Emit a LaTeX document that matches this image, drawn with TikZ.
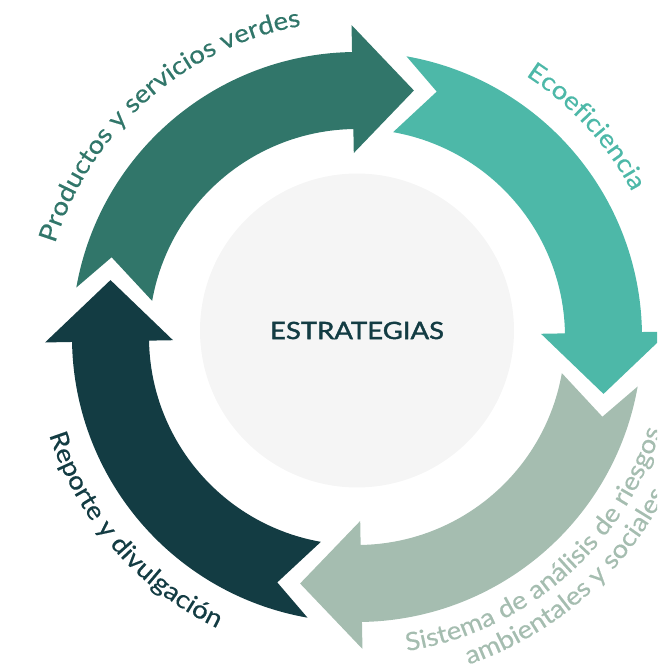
\documentclass[tikz,border=0pt]{standalone}
\usepackage{fontspec}
\setmainfont{Lato}
\newfontfamily\hubfont[FakeBold=1.6,FakeStretch=1.15]{Lato}
\newfontfamily\lblfam[FakeBold=0.4,FakeStretch=1.1]{Lato}
\usetikzlibrary{decorations.text}
\definecolor{prodcol}{HTML}{31766A}
\definecolor{ecocol}{HTML}{4DB8A8}
\definecolor{riskcol}{HTML}{A5BDB0}
\definecolor{repcol}{HTML}{133C43}
\definecolor{hubcol}{HTML}{F5F5F5}
\newcommand{\lblfont}{\lblfam\fontsize{14.3}{17}\selectfont}

\begin{document}
\begin{tikzpicture}[x=0.02cm,y=0.02cm,
  lbl/.style 2 args={decorate,decoration={text along path,text align=center,
    text color=#1,text={|\lblfont|#2}}}]
  \useasboundingbox (-357,-329) rectangle (300,337);
  \clip (-357,-329) rectangle (300,337);
  % centre
  \node (hub) [circle,fill=hubcol,minimum size=6.28cm,inner sep=0pt,
    text=repcol,font=\hubfont\fontsize{13.6}{16}\selectfont] at (0,6.5) {ESTRATEGIAS};
  % the four ring arrows, clockwise
  \foreach \t/\c in {170/prodcol,80/ecocol,-10/riskcol,-100/repcol}
    \fill[\c] (\t:285) arc[start angle=\t,end angle=\t-79,radius=285]
      -- ({\t-79}:312) -- ({\t-93}:253) -- ({\t-79}:184) -- ({\t-79}:208)
      arc[start angle=\t-79,end angle=\t,radius=208] -- ({\t-8}:258) -- cycle;
  % labels round the ring
  \path[lbl={prodcol}{Productos y servicios verdes}]
    (176:316) arc[start angle=176,end angle=87,radius=316];
  \path[lbl={ecocol}{Ecoeficiencia}]
    (70:311) arc[start angle=70,end angle=15,radius=311];
  \path[lbl={repcol}{Reporte y divulgación}]
    (180:323) arc[start angle=180,end angle=262,radius=323];
  \path[lbl={riskcol}{Sistema de análisis de riesgos}]
    (-95:318) arc[start angle=-95,end angle=-3,radius=318];
  \path[lbl={riskcol}{ambientales y sociales}]
    (-95:346) arc[start angle=-95,end angle=-3,radius=346];
\end{tikzpicture}
\end{document}
